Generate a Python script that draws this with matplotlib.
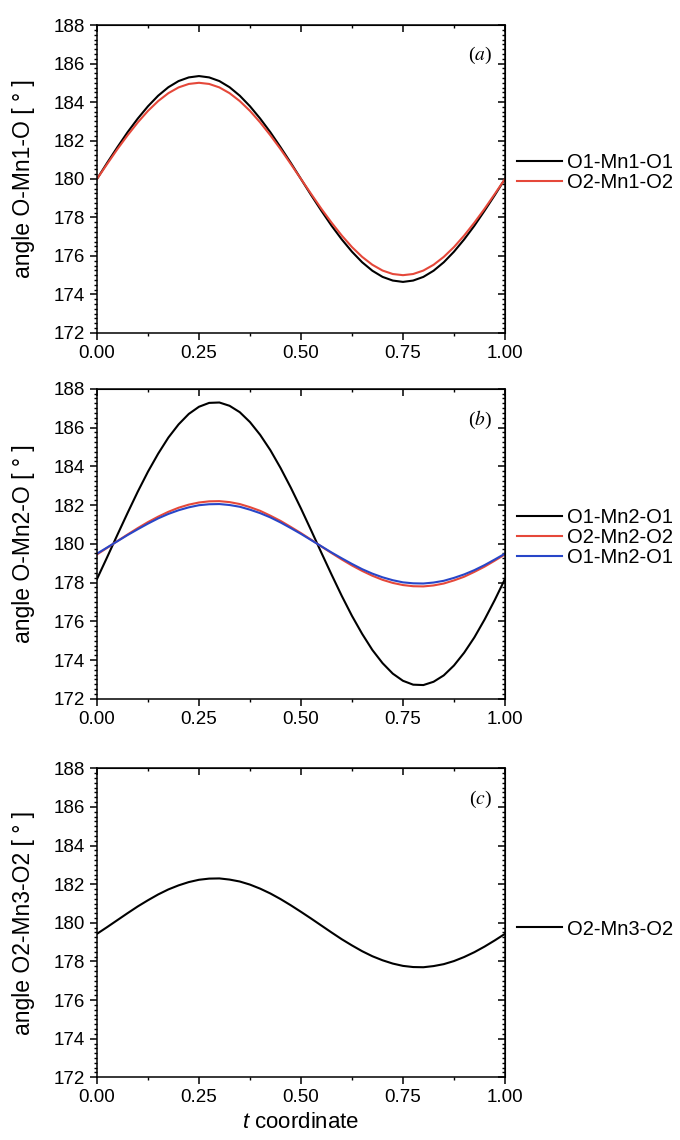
import matplotlib
matplotlib.use("Agg")
import matplotlib.pyplot as plt
from matplotlib.ticker import MultipleLocator

plt.rcParams['font.family'] = ['Liberation Sans', 'DejaVu Sans']
plt.rcParams['mathtext.fontset'] = 'custom'
plt.rcParams['mathtext.it'] = 'Liberation Sans:italic'
plt.rcParams['mathtext.rm'] = 'Liberation Sans'

# t coordinate, sampled every 0.025
t = [i * 0.025 for i in range(41)]

# (a) O-Mn1-O
a_o1 = [180.00, 180.84, 181.65, 182.43, 183.14, 183.78, 184.33, 184.77, 185.09, 185.28, 185.35,
        185.28, 185.09, 184.77, 184.33, 183.78, 183.14, 182.43, 181.65, 180.84, 180.00,
        179.16, 178.35, 177.57, 176.86, 176.22, 175.67, 175.23, 174.91, 174.72, 174.65,
        174.72, 174.91, 175.23, 175.67, 176.22, 176.86, 177.57, 178.35, 179.16, 180.00]
a_o2 = [180.00, 180.78, 181.55, 182.27, 182.94, 183.54, 184.05, 184.46, 184.76, 184.94, 185.00,
        184.94, 184.76, 184.46, 184.05, 183.54, 182.94, 182.27, 181.55, 180.78, 180.00,
        179.22, 178.45, 177.73, 177.06, 176.46, 175.95, 175.54, 175.24, 175.06, 175.00,
        175.06, 175.24, 175.54, 175.95, 176.46, 177.06, 177.73, 178.45, 179.22, 180.00]

# (b) O-Mn2-O
b_o1 = [178.18, 179.31, 180.46, 181.59, 182.69, 183.72, 184.65, 185.48, 186.16, 186.70, 187.07,
        187.27, 187.29, 187.12, 186.79, 186.28, 185.62, 184.83, 183.91, 182.90, 181.82,
        180.69, 179.54, 178.41, 177.31, 176.28, 175.35, 174.52, 173.84, 173.30, 172.93,
        172.73, 172.71, 172.88, 173.21, 173.72, 174.38, 175.17, 176.09, 177.10, 178.18]
b_o2 = [179.45, 179.79, 180.14, 180.48, 180.81, 181.12, 181.40, 181.65, 181.86, 182.02, 182.13,
        182.19, 182.20, 182.15, 182.05, 181.89, 181.70, 181.45, 181.18, 180.87, 180.55,
        180.21, 179.86, 179.52, 179.19, 178.88, 178.60, 178.35, 178.14, 177.98, 177.87,
        177.81, 177.80, 177.85, 177.95, 178.11, 178.30, 178.55, 178.82, 179.13, 179.45]
b_o1b = [179.49, 179.81, 180.13, 180.45, 180.75, 181.04, 181.31, 181.54, 181.73, 181.88, 181.99,
         182.04, 182.05, 182.00, 181.91, 181.76, 181.58, 181.36, 181.10, 180.81, 180.51,
         180.19, 179.87, 179.55, 179.25, 178.96, 178.69, 178.46, 178.27, 178.12, 178.01,
         177.96, 177.95, 178.00, 178.09, 178.24, 178.42, 178.64, 178.90, 179.19, 179.49]

# (c) O2-Mn3-O2
c_o2 = [179.43, 179.78, 180.14, 180.50, 180.85, 181.17, 181.47, 181.73, 181.94, 182.11, 182.23,
        182.29, 182.30, 182.24, 182.14, 181.98, 181.77, 181.52, 181.23, 180.91, 180.57,
        180.22, 179.86, 179.50, 179.15, 178.83, 178.53, 178.27, 178.06, 177.89, 177.77,
        177.71, 177.70, 177.76, 177.86, 178.02, 178.23, 178.48, 178.77, 179.09, 179.43]

xticks = [0.00, 0.25, 0.50, 0.75, 1.00]
yticks = [172, 174, 176, 178, 180, 182, 184, 186, 188]

RED = '#e5483a'
BLUE = '#2846c8'

fig = plt.figure(figsize=(6.8, 11.4), dpi=100)
boxes = [[0.1426, 0.708, 0.600, 0.270],
         [0.1426, 0.387, 0.600, 0.272],
         [0.1426, 0.055, 0.600, 0.271]]

panels = [
    ([(a_o1, 'k', 'O1-Mn1-O1'), (a_o2, RED, 'O2-Mn1-O2')], 'angle O-Mn1-O [ ° ]', '(a)', 0.52),
    ([(b_o1, 'k', 'O1-Mn2-O1'), (b_o2, RED, 'O2-Mn2-O2'), (b_o1b, BLUE, 'O1-Mn2-O1')],
     'angle O-Mn2-O [ ° ]', '(b)', 0.52),
    ([(c_o2, 'k', 'O2-Mn3-O2')], 'angle O2-Mn3-O2 [ ° ]', '(c)', 0.48),
]

for box, (series, ylab, tag, ly) in zip(boxes, panels):
    ax = fig.add_axes(box)
    for y, col, lab in series:
        ax.plot(t, y, color=col, lw=1.5, label=lab)
    ax.set_xlim(0, 1)
    ax.set_ylim(172, 188)
    ax.set_xticks(xticks)
    ax.set_xticklabels(['%.2f' % v for v in xticks])
    ax.set_yticks(yticks)
    ax.xaxis.set_minor_locator(MultipleLocator(0.125))
    ax.yaxis.set_minor_locator(MultipleLocator(0.25))
    ax.tick_params(which='major', direction='out', length=5, width=1.1, labelsize=13.5)
    ax.tick_params(which='minor', direction='out', length=2.5, width=1.0)
    for s in ax.spines.values():
        s.set_linewidth(1.1)

    # inward ticks on top and right
    top = ax.secondary_xaxis('top')
    top.set_xticks(xticks)
    top.xaxis.set_minor_locator(MultipleLocator(0.125))
    top.tick_params(which='major', direction='in', length=5, width=1.1, labeltop=False)
    top.tick_params(which='minor', direction='in', length=2.5, width=1.0)
    right = ax.secondary_yaxis('right')
    right.set_yticks(yticks)
    right.yaxis.set_minor_locator(MultipleLocator(0.25))
    right.tick_params(which='major', direction='in', length=5, width=1.1, labelright=False)
    right.tick_params(which='minor', direction='in', length=2.5, width=1.0)

    ax.set_ylabel(ylab, fontsize=16.5)
    ax.yaxis.set_label_coords(-0.152, 0.5)
    ax.text(0.94, 0.90, tag[0] + '$' + tag[1] + '$' + tag[2], transform=ax.transAxes,
            ha='center', va='center', fontsize=14, family='Liberation Serif',
            math_fontfamily='stix')
    ax.legend(loc='center left', bbox_to_anchor=(1.03, ly), frameon=False,
              fontsize=14.5, handlelength=2.2, handletextpad=0.25, labelspacing=0.05,
              borderpad=0, borderaxespad=0)

ax.set_xlabel(r'$t$ coordinate', fontsize=16)

fig.savefig('out.png', dpi=100)
